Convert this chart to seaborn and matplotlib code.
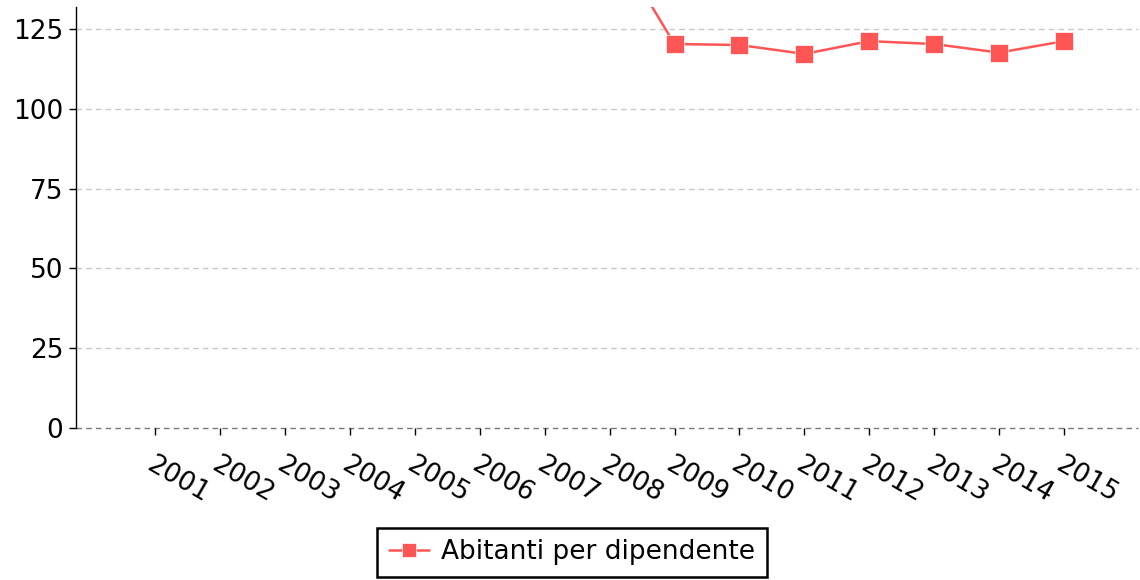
import numpy as np
import pandas as pd
import matplotlib
matplotlib.use("Agg")
import matplotlib.pyplot as plt
import seaborn as sns

years = ["2001", "2002", "2003", "2004", "2005", "2006", "2007", "2008",
         "2009", "2010", "2011", "2012", "2013", "2014", "2015"]
abitanti = [np.nan, np.nan, np.nan, np.nan, np.nan, np.nan, np.nan, 154.0,
            120.3, 120.0, 117.2, 121.2, 120.3, 117.6, 121.2]
series_label = "Abitanti per dipendente"
y_ticks = [0, 25, 50, 75, 100, 125]

sns.set_style("white")
plt.rcParams['font.family'] = ['DejaVu Sans']
plt.rcParams['text.color'] = '#000000'

df = pd.DataFrame({"anno": years, "valore": abitanti, "serie": series_label})
df["pos"] = np.arange(len(years))

fig = plt.figure(figsize=(11.4, 5.8), dpi=100)
ax = fig.add_axes([76/1140, 1-428/580, (1138-76)/1140, (428-7)/580])

color = "#ff5555"
sns.lineplot(data=df, x="pos", y="valore", ax=ax, color=color, lw=1.8,
             marker="s", markersize=13, markeredgecolor="#ffffff",
             markeredgewidth=0.5, label=series_label)

ax.set_xlim(-1.22, 15.14)
ax.set_ylim(0, 131.9)
ax.set_yticks(y_ticks)
ax.set_xticks(df["pos"])
ax.set_xticklabels(years, rotation=-30, ha="left", rotation_mode="anchor")
ax.set_xlabel("")
ax.set_ylabel("")

for y in y_ticks:
    ax.axhline(y, color="#777777" if y == 0 else "#c8c8c8", lw=1, ls=(0, (4, 3)),
               zorder=0, clip_on=False)

for s in ["top", "right", "bottom"]:
    ax.spines[s].set_visible(False)
ax.spines["left"].set_color("#000000")
ax.spines["left"].set_linewidth(1)

ax.tick_params(axis="both", labelsize=19, colors="#000000", length=5, width=1,
               direction="out", bottom=True, left=True)
ax.tick_params(axis="x", pad=12)
ax.tick_params(axis="y", pad=4)
for lab in ax.get_xticklabels():
    lab.set_x(lab.get_position()[0])

leg = ax.legend(loc="lower center", bbox_to_anchor=(572/1140, 0.0),
                bbox_transform=fig.transFigure, frameon=True, fancybox=False,
                framealpha=1, fontsize=19, handlelength=1.5, handletextpad=0.45,
                borderpad=0.45, borderaxespad=0.1, markerscale=0.8)
leg.get_frame().set_edgecolor("#000000")
leg.get_frame().set_linewidth(1.8)
for t in leg.get_texts():
    t.set_color("#000000")

fig.savefig("out.png", dpi=100)
